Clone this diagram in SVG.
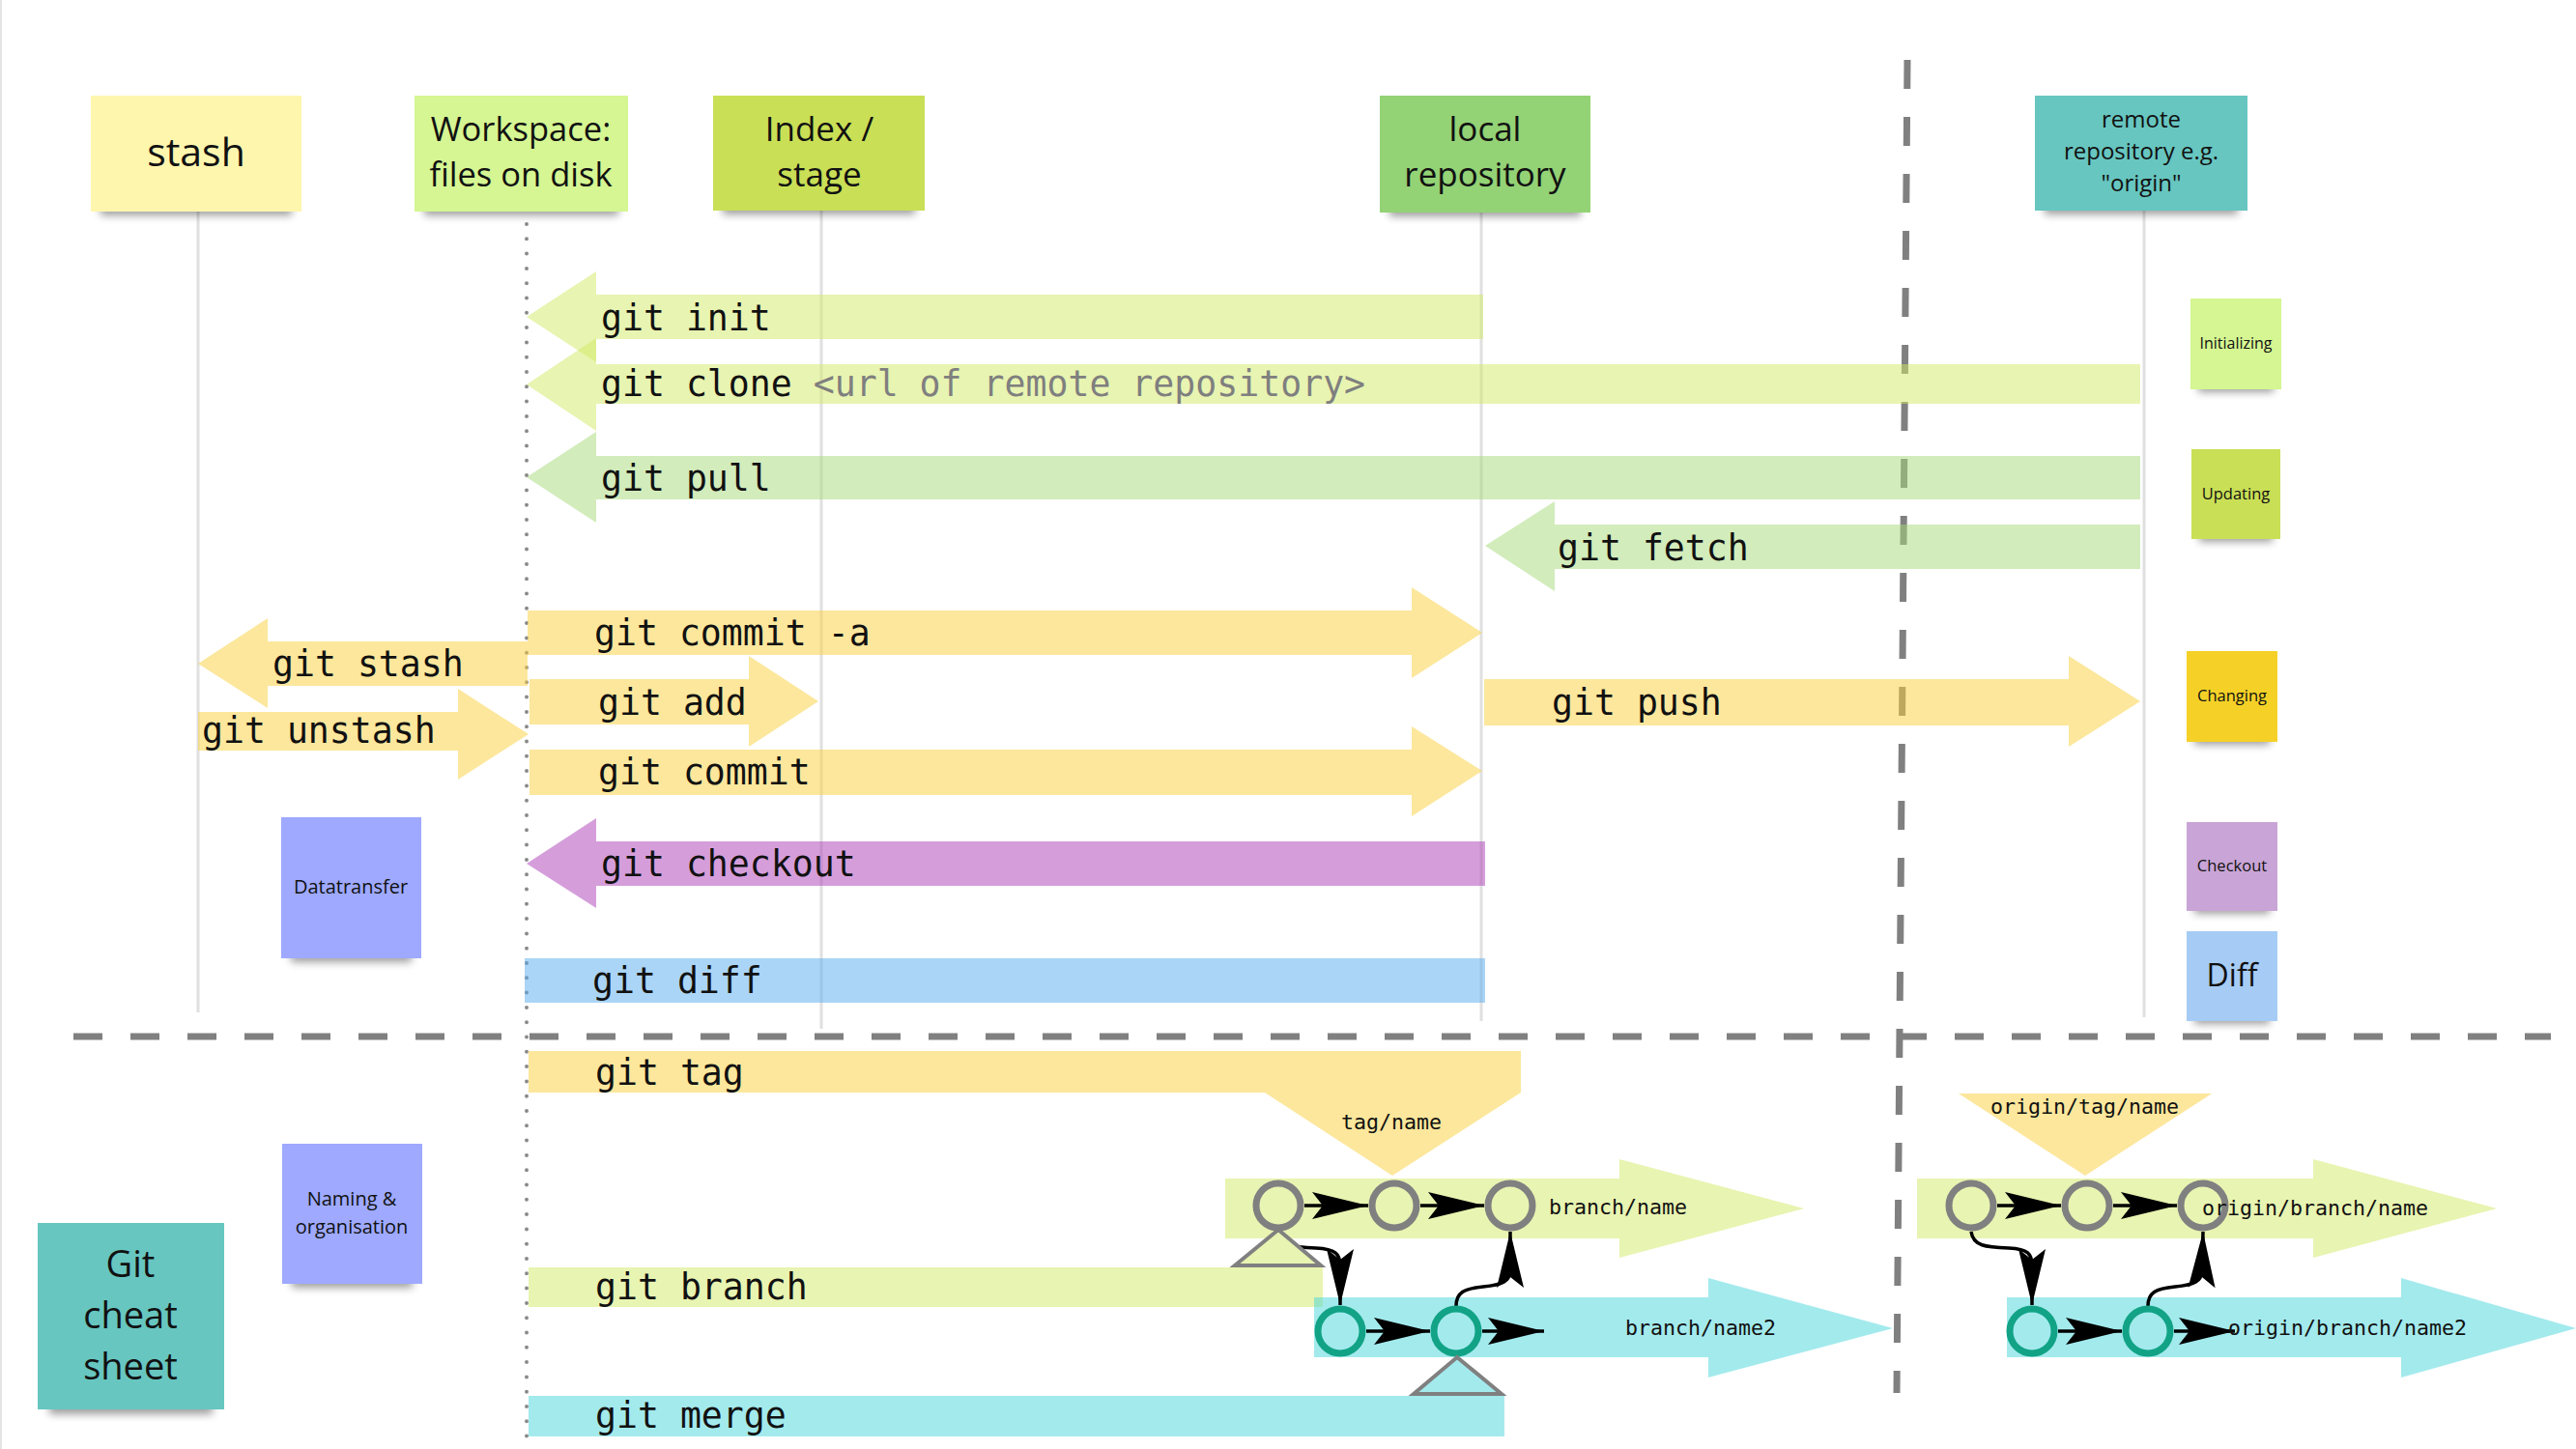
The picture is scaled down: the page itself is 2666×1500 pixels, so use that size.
<svg xmlns="http://www.w3.org/2000/svg" width="2666" height="1500" viewBox="0 0 2666 1500">
<style>
.bg{fill:#ffffff}
.life{stroke:#e0e0e0;stroke-width:3;fill:none}
.dash{stroke:#808080;stroke-width:7;stroke-dasharray:30 29;fill:none}
.dots{stroke:#8a8a8a;stroke-width:4;stroke-linecap:round;stroke-dasharray:0 15.3;fill:none}
.sh{fill:#000;opacity:.38;filter:url(#blur)}
.note-t{font-family:"Open Sans","Liberation Sans",sans-serif;fill:#111;text-anchor:middle}
.cmd{font-family:"DejaVu Sans Mono","Liberation Mono",monospace;font-size:36.5px;fill:#111}
.lbl{font-family:"DejaVu Sans Mono","Liberation Mono",monospace;font-size:21.6px;fill:#111}
.url{fill:#7f7f7f}
.a-yel{fill:#f9cf39;fill-opacity:.5}
.a-lg{fill:#d1e963;fill-opacity:.5}
.a-gr{fill:#a5d977;fill-opacity:.5}
.a-pur{fill:#ab3db7;fill-opacity:.5}
.a-blu{fill:#55abed;fill-opacity:.5}
.a-cy{fill:#47d5db;fill-opacity:.5}
.c-gray{fill:none;stroke:#808080;stroke-width:7}
.c-teal{fill:none;stroke:#12a386;stroke-width:7}
.edge{fill:none;stroke:#000;stroke-width:3.5;marker-end:url(#ah)}
.tri{stroke:#808080;stroke-width:4;stroke-linejoin:miter}
</style>
<defs>
<filter id="blur" x="-20%" y="-100%" width="140%" height="300%"><feGaussianBlur stdDeviation="4"/></filter>
<marker id="ah" markerUnits="userSpaceOnUse" markerWidth="62" markerHeight="32" viewBox="-60 -16 62 32" refX="0" refY="0" orient="auto"><path d="M0,0 L-58,-14 L-47,0 L-58,14 Z" fill="#000"/></marker>
</defs>
<rect class="bg" x="0" y="0" width="2666" height="1500"/>
<line x1="1" y1="0" x2="1" y2="1500" stroke="#e4e4e4" stroke-width="2"/>

<g id="lifelines">
<line class="life" x1="205" y1="219" x2="205" y2="1048"/>
<line class="life" x1="850" y1="218" x2="850" y2="1065"/>
<line class="life" x1="1533" y1="220" x2="1533" y2="1057"/>
<line class="life" x1="2219" y1="218" x2="2219" y2="1053"/>
</g>

<g id="separators">
<line class="dash" x1="1974" y1="62" x2="1963" y2="1442"/>
<line class="dash" x1="76" y1="1073" x2="2640" y2="1073"/>
<line class="dots" x1="545" y1="232" x2="545" y2="1490"/>
</g>

<g id="node-stash">
<rect class="sh" x="104" y="207" width="198" height="16"/>
<rect x="94" y="99" width="218" height="120" fill="#fff6ae"/>
<text class="note-t" x="203" y="172" font-size="41">stash</text>
</g>
<g id="node-workspace">
<rect class="sh" x="439" y="207" width="201" height="16"/>
<rect x="429" y="99" width="221" height="120" fill="#d5f692"/>
<text class="note-t" x="539" y="146" font-size="34.5">Workspace:</text>
<text class="note-t" x="539" y="193" font-size="34.5">files on disk</text>
</g>
<g id="node-index">
<rect class="sh" x="748" y="206" width="199" height="16"/>
<rect x="738" y="99" width="219" height="119" fill="#c9df56"/>
<text class="note-t" x="848" y="146" font-size="35">Index /</text>
<text class="note-t" x="848" y="193" font-size="35">stage</text>
</g>
<g id="node-local">
<rect class="sh" x="1438" y="208" width="198" height="16"/>
<rect x="1428" y="99" width="218" height="121" fill="#93d275"/>
<text class="note-t" x="1537" y="146" font-size="35">local</text>
<text class="note-t" x="1537" y="193" font-size="35">repository</text>
</g>
<g id="node-remote">
<rect class="sh" x="2116" y="206" width="200" height="16"/>
<rect x="2106" y="99" width="220" height="119" fill="#67c6c0"/>
<text class="note-t" x="2216" y="132" font-size="24">remote</text>
<text class="note-t" x="2216" y="165" font-size="24">repository e.g.</text>
<text class="note-t" x="2216" y="198" font-size="24">"origin"</text>
</g>

<g id="connectors">
<g id="cmd-init"><path class="a-lg" d="M545,328 L617,281 L617,305 L1535,305 L1535,351 L617,351 L617,375 Z"/><text class="cmd" x="622" y="342">git init</text></g>
<g id="cmd-clone"><path class="a-lg" d="M545,398 L617,350 L617,377 L2215,377 L2215,418 L617,418 L617,446 Z"/><text class="cmd" x="622" y="410">git clone <tspan class="url">&lt;url of remote repository&gt;</tspan></text></g>
<g id="cmd-pull"><path class="a-gr" d="M545,494 L617,447 L617,472 L2215,472 L2215,517 L617,517 L617,541 Z"/><text class="cmd" x="622" y="508">git pull</text></g>
<g id="cmd-fetch"><path class="a-gr" d="M1537,565 L1609,519 L1609,543 L2215,543 L2215,589 L1609,589 L1609,612 Z"/><text class="cmd" x="1612" y="580">git fetch</text></g>
<g id="cmd-commit-a"><path class="a-yel" d="M546,632 L1461,632 L1461,608 L1534,655 L1461,702 L1461,678 L546,678 Z"/><text class="cmd" x="615" y="668">git commit -a</text></g>
<g id="cmd-stash"><path class="a-yel" d="M205,687 L277,640 L277,664 L546,664 L546,710 L277,710 L277,733 Z"/><text class="cmd" x="282" y="700">git stash</text></g>
<g id="cmd-add"><path class="a-yel" d="M548,703 L775,703 L775,679 L847,726 L775,773 L775,750 L548,750 Z"/><text class="cmd" x="619" y="740">git add</text></g>
<g id="cmd-unstash"><path class="a-yel" d="M205,737 L474,737 L474,713 L547,760 L474,807 L474,777 L205,777 Z"/><text class="cmd" x="209" y="769">git unstash</text></g>
<g id="cmd-push"><path class="a-yel" d="M1536,703 L2141,703 L2141,679 L2215,726 L2141,773 L2141,751 L1536,751 Z"/><text class="cmd" x="1606" y="740">git push</text></g>
<g id="cmd-commit"><path class="a-yel" d="M548,776 L1461,776 L1461,752 L1534,798 L1461,845 L1461,823 L548,823 Z"/><text class="cmd" x="619" y="812">git commit</text></g>
<g id="cmd-checkout"><path class="a-pur" d="M545,894 L617,847 L617,871 L1537,871 L1537,917 L617,917 L617,940 Z"/><text class="cmd" x="622" y="907">git checkout</text></g>
<g id="cmd-diff"><rect class="a-blu" x="543" y="992" width="994" height="46"/><text class="cmd" x="613" y="1028">git diff</text></g>
<g id="cmd-tag"><path class="a-yel" d="M547,1088 L1574,1088 L1574,1131 L1441,1217 L1309,1131 L547,1131 Z"/><text class="cmd" x="616" y="1123">git tag</text><text class="lbl" x="1440" y="1169" text-anchor="middle">tag/name</text></g>
<g id="branch-name-arrow"><path class="a-lg" d="M1268,1220 L1676,1220 L1676,1200 L1867,1251 L1676,1302 L1676,1282 L1268,1282 Z"/></g>
<g id="cmd-branch"><rect class="a-lg" x="547" y="1312" width="822" height="41"/><text class="cmd" x="616" y="1345">git branch</text></g>
<g id="branch-name2-arrow"><path class="a-cy" d="M1360,1343 L1768,1343 L1768,1323 L1959,1375 L1768,1426 L1768,1405 L1360,1405 Z"/></g>
<g id="cmd-merge"><rect class="a-cy" x="547" y="1445" width="1010" height="42"/><text class="cmd" x="616" y="1478">git merge</text></g>
<g id="origin-tag"><path class="a-yel" d="M2027,1132 L2289,1132 L2158,1217 Z"/><text class="lbl" x="2060" y="1153">origin/tag/name</text></g>
<g id="origin-branch-name-arrow"><path class="a-lg" d="M1984,1220 L2394,1220 L2394,1200 L2584,1251 L2394,1302 L2394,1282 L1984,1282 Z"/></g>
<g id="origin-branch-name2-arrow"><path class="a-cy" d="M2077,1343 L2485,1343 L2485,1323 L2666,1375 L2485,1426 L2485,1405 L2077,1405 Z"/></g>

<g id="graph-edges">
<path class="edge" d="M1350,1248 L1416,1248"/>
<path class="edge" d="M1470,1248 L1536,1248"/>
<path class="edge" d="M1414,1378 L1480,1378"/>
<path class="edge" d="M1534,1378 L1598,1378"/>
<path class="edge" d="M1323,1275 C1325,1290 1338,1291 1362,1292 C1382,1293 1387,1298 1387,1310 L1387,1351"/>
<path class="edge" d="M1507,1352 C1507,1338 1515,1334 1535,1332 C1556,1330 1562,1326 1563,1316 L1563,1275"/>
<path class="edge" d="M2067,1248 L2133,1248"/>
<path class="edge" d="M2187,1248 L2253,1248"/>
<path class="edge" d="M2130,1378 L2196,1378"/>
<path class="edge" d="M2250,1378 L2313,1378"/>
<path class="edge" d="M2040,1275 C2042,1290 2055,1291 2079,1292 C2099,1293 2103,1298 2103,1310 L2103,1351"/>
<path class="edge" d="M2223,1352 C2223,1338 2231,1334 2251,1332 C2272,1330 2278,1326 2279,1316 L2280,1275"/>
</g>
</g>

<g id="node-commit-l1"><circle class="c-gray" cx="1323" cy="1248" r="23"/></g>
<g id="node-commit-l2"><circle class="c-gray" cx="1443" cy="1248" r="23"/></g>
<g id="node-commit-l3"><circle class="c-gray" cx="1563" cy="1248" r="23"/></g>
<g id="node-commit-l4"><circle class="c-teal" cx="1387" cy="1378" r="23"/></g>
<g id="node-commit-l5"><circle class="c-teal" cx="1507" cy="1378" r="23"/></g>
<g id="node-commit-r1"><circle class="c-gray" cx="2040" cy="1248" r="23"/></g>
<g id="node-commit-r2"><circle class="c-gray" cx="2160" cy="1248" r="23"/></g>
<g id="node-commit-r3"><circle class="c-gray" cx="2280" cy="1248" r="23"/></g>
<g id="node-commit-r4"><circle class="c-teal" cx="2103" cy="1378" r="23"/></g>
<g id="node-commit-r5"><circle class="c-teal" cx="2223" cy="1378" r="23"/></g>
<g id="node-branch-marker"><path class="tri" fill="#e8f4b1" d="M1323,1273 L1367,1310 L1278,1310 Z"/></g>
<g id="node-merge-marker"><path class="tri" fill="#a3eaed" d="M1508,1405 L1554,1443 L1463,1443 Z"/></g>

<g id="branch-labels">
<text class="lbl" x="1603" y="1257">branch/name</text>
<text class="lbl" x="1682" y="1382">branch/name2</text>
<text class="lbl" x="2279" y="1258">origin/branch/name</text>
<text class="lbl" x="2306" y="1382">origin/branch/name2</text>
</g>

<g id="node-initializing">
<rect class="sh" x="2275" y="392" width="78" height="14"/>
<rect x="2267" y="309" width="94" height="94" fill="#d5f692"/>
<text class="note-t" x="2314" y="361" font-size="16">Initializing</text>
</g>
<g id="node-updating">
<rect class="sh" x="2276" y="547" width="76" height="14"/>
<rect x="2268" y="465" width="92" height="93" fill="#c9df56"/>
<text class="note-t" x="2314" y="517" font-size="16.5">Updating</text>
</g>
<g id="node-changing">
<rect class="sh" x="2271" y="757" width="78" height="14"/>
<rect x="2263" y="674" width="94" height="94" fill="#f5d128"/>
<text class="note-t" x="2310" y="726" font-size="16.5">Changing</text>
</g>
<g id="node-checkout">
<rect class="sh" x="2271" y="932" width="78" height="14"/>
<rect x="2263" y="851" width="94" height="92" fill="#c9a4d6"/>
<text class="note-t" x="2310" y="902" font-size="16.5">Checkout</text>
</g>
<g id="node-diff">
<rect class="sh" x="2271" y="1046" width="78" height="14"/>
<rect x="2263" y="964" width="94" height="93" fill="#a6ccf5"/>
<text class="note-t" x="2310" y="1021" font-size="32">Diff</text>
</g>
<g id="node-datatransfer">
<rect class="sh" x="301" y="980" width="125" height="16"/>
<rect x="291" y="846" width="145" height="146" fill="#9ea9ff"/>
<text class="note-t" x="363" y="925" font-size="20">Datatransfer</text>
</g>
<g id="node-naming">
<rect class="sh" x="302" y="1317" width="125" height="16"/>
<rect x="292" y="1184" width="145" height="145" fill="#9ea9ff"/>
<text class="note-t" x="364" y="1248" font-size="20">Naming &amp;</text>
<text class="note-t" x="364" y="1277" font-size="20">organisation</text>
</g>
<g id="node-cheatsheet">
<rect class="sh" x="51" y="1446" width="169" height="18"/>
<rect x="39" y="1266" width="193" height="193" fill="#67c6c0"/>
<text class="note-t" x="135" y="1322" font-size="38">Git</text>
<text class="note-t" x="135" y="1375" font-size="38">cheat</text>
<text class="note-t" x="135" y="1428" font-size="38">sheet</text>
</g>
</svg>
